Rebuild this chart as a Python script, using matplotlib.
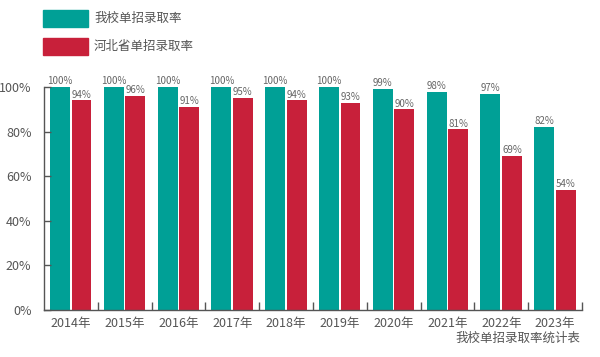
import matplotlib
matplotlib.use("Agg")
import matplotlib.pyplot as plt
import numpy as np
from matplotlib.patches import Rectangle

plt.rcParams['font.family'] = ['Noto Sans CJK SC', 'DejaVu Sans']

years = ["2014年", "2015年", "2016年", "2017年", "2018年", "2019年", "2020年", "2021年", "2022年", "2023年"]
school = [100, 100, 100, 100, 100, 100, 99, 98, 97, 82]
province = [94, 96, 91, 95, 94, 93, 90, 81, 69, 54]
series_names = ["我校单招录取率", "河北省单招录取率"]
caption = "我校单招录取率统计表"

teal = "#00A096"
red = "#C8203A"
txt = "#555555"

fig = plt.figure(figsize=(6, 3.57), dpi=100)
ax = fig.add_axes([0.0733, 0.1317, 0.8967, 0.6243])

x = np.arange(len(years))
w = 0.37
ax.bar(x - 0.203, school, width=w, color=teal)
ax.bar(x + 0.197, province, width=w, color=red)

for xi, v in zip(x, school):
    ax.text(xi - 0.203, v + 0.4, f"{v}%", ha="center", va="bottom", fontsize=7, color="#666666")
for xi, v in zip(x, province):
    ax.text(xi + 0.197, v + 0.4, f"{v}%", ha="center", va="bottom", fontsize=7, color="#666666")

ax.set_xlim(-0.5, len(years) - 0.5)
ax.set_ylim(0, 100)
ax.set_yticks(range(0, 101, 20))
ax.set_yticklabels([f"{v}%" for v in range(0, 101, 20)], fontsize=9, color=txt)
ax.set_xticks(x)
ax.set_xticklabels(years, fontsize=9, color=txt)
ax.set_xticks(np.arange(len(years)) + 0.5, minor=True)
ax.tick_params(axis="x", which="major", length=0, pad=5)
ax.tick_params(axis="x", which="minor", direction="in", length=6, color="#555555", width=1)
ax.tick_params(axis="y", direction="in", length=5, color="#555555", width=1, pad=9)

for s in ["top", "right"]:
    ax.spines[s].set_visible(False)
for s in ["left", "bottom"]:
    ax.spines[s].set_color("#555555")
    ax.spines[s].set_linewidth(1)

# legend
for i, (name, c) in enumerate(zip(series_names, [teal, red])):
    y0 = 1 - (27 + 28 * i) / 357
    fig.patches.append(Rectangle((43 / 600, y0), 45 / 600, 17 / 357, transform=fig.transFigure, color=c))
    fig.text(94 / 600, y0 + 8.5 / 357, name, fontsize=9, color=txt, va="center", ha="left")

fig.text(580 / 600, 1 - 338 / 357, caption, fontsize=9, color=txt, ha="right", va="center")

fig.savefig("out.png", dpi=100)
